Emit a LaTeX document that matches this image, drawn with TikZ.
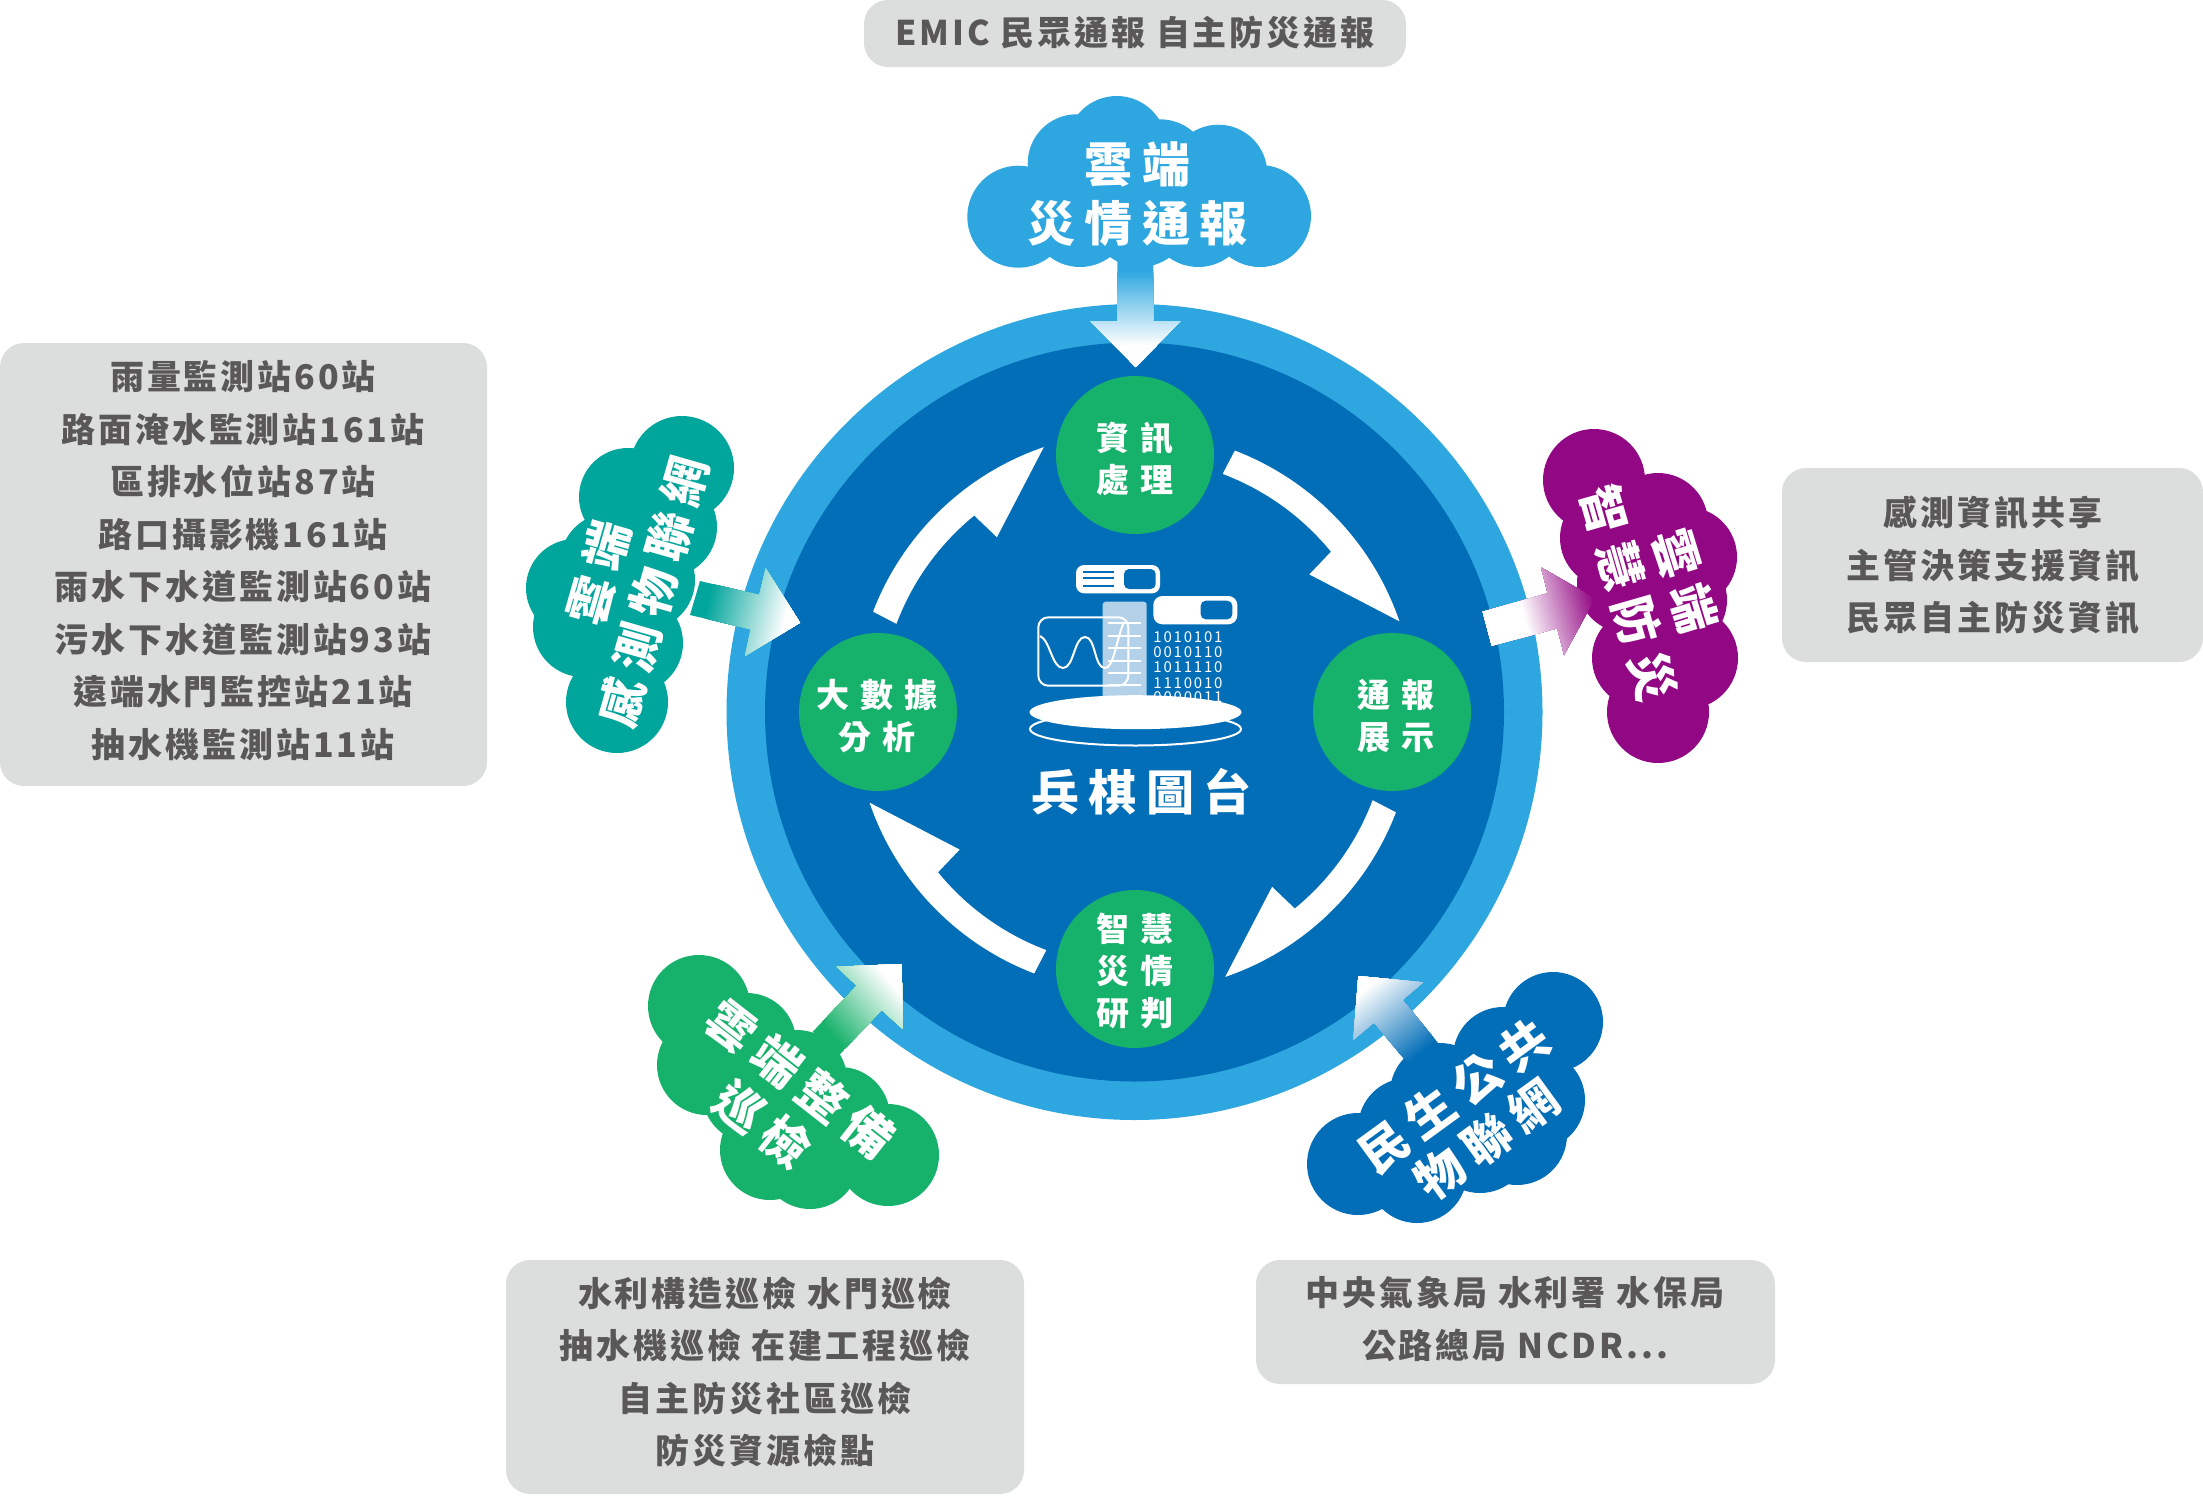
\documentclass[tikz,border=0pt]{standalone}
\usepackage{fontspec}
\usetikzlibrary{calc,shapes.geometric}
\setmainfont{Noto Sans CJK TC}
\newfontfamily\boxfont[LetterSpace=8.5]{Noto Sans CJK TC}
\newfontfamily\cloudfont[LetterSpace=20]{Noto Sans CJK TC}
\newfontfamily\stepfont[LetterSpace=33]{Noto Sans CJK TC}
\newfontfamily\titlefont[LetterSpace=19]{Noto Sans CJK TC}
\newfontfamily\binfont[LetterSpace=12]{Noto Sans CJK TC}
\definecolor{ringblue}{HTML}{2EA7E0}
\definecolor{deepblue}{HTML}{036EB8}
\definecolor{stepgreen}{HTML}{16B16A}
\definecolor{tealc}{HTML}{00A59B}
\definecolor{purplec}{HTML}{920783}
\definecolor{boxgrey}{HTML}{DCDDDD}
\definecolor{boxtextc}{HTML}{595757}
\definecolor{columnc}{HTML}{B3D2EA}
\tikzset{
  greybox/.style={fill=boxgrey,rounded corners=24pt,inner sep=0pt,minimum width=#1},
  boxtext/.style={text=boxtextc,align=center,inner sep=0pt,font=\boxfont\fontsize{34}{52.5}\selectfont\bfseries},
  cloudtext/.style={text=white,align=center,inner sep=0pt,font=\cloudfont\fontsize{48}{58}\selectfont\bfseries},
  stepnode/.style={circle,fill=stepgreen,minimum size=158pt,inner sep=0pt},
  steptext/.style={text=white,align=center,inner sep=0pt,font=\stepfont\fontsize{33}{42}\selectfont\bfseries},
  bintext/.style={text=white,inner sep=0pt,font=\binfont\fontsize{15}{15}\selectfont},
}
\newcommand\gradarrow[5]{%
  \begin{scope}
    \clip #1;
    \fill[#4] #1;
    \foreach \gi in {1,...,40}{
      \pgfmathsetmacro\gt{\gi/40}
      \pgfmathsetmacro\gp{\gi*2.5}
      \draw[line width=500pt,#5!\gp!#4] ($#2!\gt!#3$) -- ($#2!5!#3$);
    }
  \end{scope}}
\newcommand\cloudshape[2]{%
  \foreach \cx/\cy/\cr in {#2}{\fill[#1] (\cx,\cy) circle[radius=\cr pt];}}
\begin{document}
\begin{tikzpicture}[x=1pt,y=-1pt]
\path[use as bounding box] (0,0) rectangle (2203,1502);

% rings
\node[circle,fill=ringblue,minimum size=816pt,inner sep=0pt] (ring) at (1134.5,712) {};
\node[circle,fill=deepblue,minimum size=739pt,inner sep=0pt] (core) at (1134.5,712) {};

% curved arrows
\begin{scope}[shift={(1134.5,712)},x=1pt,y=1pt]
  \foreach \rot in {0,90,180,270}{
    \fill[white,rotate=\rot] (69:280pt) arc[start angle=69,end angle=18.9,radius=280pt]
      -- (38.2:222.5pt) -- (39.2:253.6pt) arc[start angle=39.2,end angle=69.4,radius=256pt] -- cycle;
  }
\end{scope}

% step circles
\node[stepnode] (s1) at (1135,455) {};
\node[stepnode] (s2) at (1392,712) {};
\node[stepnode] (s3) at (1135,969) {};
\node[stepnode] (s4) at (878,712) {};
\node[steptext] (s1t) at (1135,459) {資訊\\處理};
\node[steptext] (s2t) at (1396,716) {通報\\展示};
\node[steptext] (s3t) at (1135,971) {智慧\\災情\\研判};
\node[steptext] (s4t) at (877,716) {大數據\\分析};

% clouds
\cloudshape{ringblue}{1018.3/216.7/51,1076.7/163.3/49,1116.7/146/50,1160/169.3/50,1218.3/173.7/49,1260/216/51,1080/217/50,1140/217/50,1198.3/217/50,1140/180/50}
\cloudshape{tealc}{682/468/52,628/497/49,610/563/50,575/588/49,583/627/50,617/702/51,667/527/50,633/643/50,645/580/50}
\cloudshape{stepgreen}{699/1006/51,747/1042/49,707/1065/50,770/1150/50,810/1160/49,797/1080/50,840/1117/50,888/1155/51,752/1093/50,813/1133/50}
\cloudshape{deepblue}{1553/1022/50,1503/1057/50,1535/1100/50,1517/1135/50,1480/1143/50,1417/1173/50,1358/1164/51,1408/1128/50,1440/1093/50,1480/1100/50}
\cloudshape{purplec}{1594/480/51,1658/523/50,1687/557/50,1677/600/50,1687/658/51,1658/712/51,1642/658/50,1610/538/50,1627/583/50}

% gradient arrows
\gradarrow{(1117.3,250) -- (1153.3,250) -- (1153.3,321) -- (1180.7,321) -- (1135.7,367) -- (1090,321) -- (1117.3,321) -- cycle}{(1135,270)}{(1135,345)}{ringblue}{white}
\gradarrow{(700,581) -- (759.3,595) -- (765.7,568.3) -- (800,622.7) -- (745,656) -- (750.7,629.3) -- (690,615) -- cycle}{(707,600)}{(785,619)}{tealc}{white}
\gradarrow{(812.7,1031.7) -- (856.7,985.7) -- (836.7,966.7) -- (901.7,964) -- (902.7,1029) -- (881.7,1010) -- (839.3,1055) -- cycle}{(826,1030)}{(886,978)}{stepgreen}{white}
\gradarrow{(1358.3,976) -- (1423.3,982.3) -- (1402.7,1000) -- (1438.3,1043.3) -- (1410.7,1066.7) -- (1374,1022.7) -- (1353.3,1040) -- cycle}{(1423,1053)}{(1370,987)}{deepblue}{white}
\gradarrow{(1482.7,611.7) -- (1547.7,593.3) -- (1541,567.3) -- (1595,598.3) -- (1564,655) -- (1557.3,628.3) -- (1491.7,645.7) -- cycle}{(1595,598)}{(1525,617)}{purplec}{white}

% cloud labels
\node[cloudtext,font=\cloudfont\fontsize{48}{58.5}\selectfont\bfseries] (c1) at (1137.5,194) {雲端\\災情通報};
\node[cloudtext,rotate=74] (c2a) at (599,573) {雲端};
\node[cloudtext,rotate=74] (c2b) at (653,592) {感測物聯網};
\node[cloudtext,rotate=-38] (c3a) at (800,1079) {雲端整備};
\node[cloudtext,rotate=-38] (c3b) at (763,1124) {巡檢};
\node[cloudtext,rotate=36] (c4a) at (1454,1096) {民生公共};
\node[cloudtext,rotate=36] (c4b) at (1487,1140) {物聯網};
\node[cloudtext,rotate=-73] (c5a) at (1685,581) {雲端};
\node[cloudtext,rotate=-74] (c5b) at (1629,593) {智慧防災};

% central icon
\fill[white,rounded corners=8pt] (1076,565) rectangle (1160,593.3);
\fill[deepblue,rounded corners=5pt] (1124,569) rectangle (1155.7,589);
\foreach \ly in {571.7,578.3,585.7}{\draw[deepblue,line width=2pt] (1083.3,\ly) -- (1114,\ly);}
\fill[white,rounded corners=9pt] (1153.3,596) rectangle (1237.3,624.3);
\fill[deepblue,rounded corners=5pt] (1200.7,600.7) rectangle (1232.3,619.3);
\fill[columnc,rounded corners=3pt] (1102.7,601.7) rectangle (1146.7,700);
\foreach \ly in {623.3,635.7,648.3,660.7,672.7,685}{\draw[white,line width=2pt] (1108.3,\ly) -- (1141,\ly);}
\draw[white,line width=2pt,rounded corners=10pt] (1038.3,617.3) rectangle (1128.3,685.7);
\draw[white,line width=2pt] (1040,636) .. controls (1050,640) and (1052,668) .. (1063,668) .. controls (1074,668) and (1074,637) .. (1085,637) .. controls (1096,637) and (1094,668) .. (1105,668) .. controls (1114,668) and (1116,640) .. (1124,622);
\node[bintext] (b1) at (1188,636.7) {1010101};
\node[bintext] (b2) at (1188,652.3) {0010110};
\node[bintext] (b3) at (1188,667) {1011110};
\node[bintext] (b4) at (1188,683.3) {1110010};
\node[bintext] (b5) at (1188,697) {0000011};
\node[ellipse,draw=white,line width=2pt,minimum width=211pt,minimum height=33pt,inner sep=0pt] (disc2) at (1135.5,729) {};
\node[ellipse,fill=white,minimum width=212pt,minimum height=34pt,inner sep=0pt] (disc1) at (1135.5,712.2) {};
\node[text=white,inner sep=0pt,font=\titlefont\fontsize{48}{48}\selectfont\bfseries] (title) at (1141.5,792) {兵棋圖台};

% grey boxes
\node[greybox=542pt,minimum height=67pt] (boxtop) at (1135,33.5) {};
\node[boxtext] (boxtopt) at (1135,33) {EMIC 民眾通報 自主防災通報};
\node[greybox=487pt,minimum height=443pt] (boxleft) at (243.5,564.5) {};
\node[boxtext] (boxleftt) at (243,560.5) {雨量監測站60站\\路面淹水監測站161站\\區排水位站87站\\路口攝影機161站\\雨水下水道監測站60站\\污水下水道監測站93站\\遠端水門監控站21站\\抽水機監測站11站};
\node[greybox=421pt,minimum height=194pt] (boxright) at (1992.5,565) {};
\node[boxtext] (boxrightt) at (1993,565.5) {感測資訊共享\\主管決策支援資訊\\民眾自主防災資訊};
\node[greybox=518pt,minimum height=234pt] (boxbl) at (765,1377) {};
\node[boxtext] (boxblt) at (765,1372) {水利構造巡檢 水門巡檢\\抽水機巡檢 在建工程巡檢\\自主防災社區巡檢\\防災資源檢點};
\node[greybox=519pt,minimum height=124pt] (boxbr) at (1515.5,1322) {};
\node[boxtext] (boxbrt) at (1515,1319) {中央氣象局 水利署 水保局\\公路總局 NCDR...};
\end{tikzpicture}
\end{document}
